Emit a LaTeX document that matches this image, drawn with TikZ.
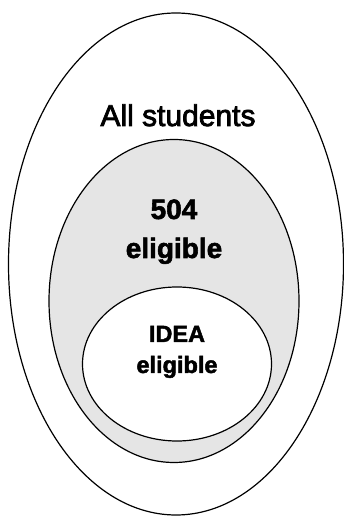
\documentclass[tikz,border=0pt]{standalone}
\usepackage{fontspec}
\setmainfont{Liberation Sans}
\newfontfamily\medfont[FakeBold=2.5]{Liberation Sans}
\newfontfamily\hvyfont[BoldFont={* Bold}, BoldFeatures={FakeBold=2}]{Liberation Sans}
\usetikzlibrary{shapes.geometric}
\tikzset{
  ring/.style={draw=black, line width=1.2pt, ellipse, inner sep=0pt},
  lbl/.style={align=center, anchor=base, inner sep=0pt}
}
\begin{document}
\begin{tikzpicture}[x=1pt,y=1pt]
\useasboundingbox (0,0) rectangle (344,517);
\node[ring, fill=white, minimum width=335pt, minimum height=502pt] (outer) at (176,253) {};
\node[ring, fill=black!10, minimum width=250pt, minimum height=323pt] (mid) at (174,216) {};
\node[ring, fill=white, minimum width=189pt, minimum height=154pt] (inner) at (177,153) {};
\node[lbl, font=\medfont\fontsize{30}{36}\selectfont] (all) at (178,391) {All students};
\node[lbl, font=\hvyfont\bfseries\fontsize{28}{39}\selectfont] (sec) at (174,259) {504\\eligible};
\node[lbl, font=\hvyfont\bfseries\fontsize{23.5}{31}\selectfont] (idea) at (177,144) {IDEA\\eligible};
\end{tikzpicture}
\end{document}
